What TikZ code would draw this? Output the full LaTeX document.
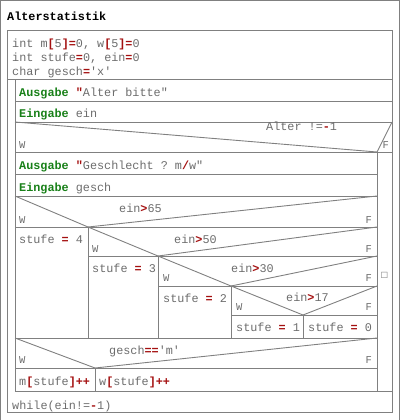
\documentclass[tikz,border=0pt]{standalone}
\usepackage{fontspec}
\setmonofont{Liberation Mono}
\newfontfamily\symfont{DejaVu Sans}
\usepackage{xcolor}
\usepackage{tikz}

\definecolor{linegray}{RGB}{128,128,128}
\definecolor{codegray}{RGB}{108,108,108}
\definecolor{kwgreen}{RGB}{24,128,24}
\definecolor{opred}{RGB}{164,16,16}
\newcommand\kw[1]{\textcolor{kwgreen}{\textbf{#1}}}
\newcommand\opr[1]{\textcolor{opred}{\textbf{#1}}}

\begin{document}
\begin{tikzpicture}[
    x=1pt, y=-1pt,
    box/.style={draw=linegray, line width=0.9pt},
    code/.style={anchor=base west, inner sep=0pt, text=codegray,
                 font=\fontsize{11.8}{13}\ttfamily},
    wlabel/.style={anchor=base west, inner sep=0pt, text=codegray,
                   font=\fontsize{10.5}{11}\ttfamily},
    flabel/.style={wlabel, anchor=base east}
]
\useasboundingbox (0,0) rectangle (401,420);
\draw[box] (0.5,420) |- (399.5,0.5) -- (399.5,420);
\node[code, text=black, font=\fontsize{11.8}{13}\ttfamily\bfseries] (title)
  at (7,21) {Alterstatistik};

% declarations
\draw[box] (7,30) rectangle (392,412);
\draw[box] (7,79) -- (392,79);
\node[code] (decl1) at (12,48) {int m\opr{[}5\opr{]=}0, w\opr{[}5\opr{]=}0};
\node[code] (decl2) at (12,62) {int stufe\opr{=}0, ein\opr{=}0};
\node[code] (decl3) at (12,75) {char gesch\opr{=}'x'};

% do-while body
\draw[box] (15,79) -- (15,391) -- (392,391);
\draw[box] (15,101) -- (392,101);
\draw[box] (15,122) -- (392,122);
\node[code] (out1) at (19,96) {\kw{Ausgabe} \opr{"}Alter bitte"};
\node[code] (in1) at (19,117) {\kw{Eingabe} ein};

% if Alter != -1
\draw[box] (15,122) -- (377,152) -- (392,122);
\draw[box] (15,152) -- (392,152);
\draw[box] (377,152) -- (377,391);
\node[code] (cond0) at (266,130) {Alter !=\opr{-}1};
\node[wlabel] (w0) at (19,148) {W};
\node[flabel] (f0) at (389,148) {F};
\node[inner sep=0pt, text=codegray, font=\symfont\fontsize{8}{9}\selectfont]
  (empty) at (384.5,275) {□};

\draw[box] (15,174) -- (377,174);
\draw[box] (15,196) -- (377,196);
\node[code] (out2) at (19,169) {\kw{Ausgabe} \opr{"}Geschlecht ? m\opr{/}w"};
\node[code] (in2) at (19,191) {\kw{Eingabe} gesch};

% ein>65
\draw[box] (15,196) -- (88,227) -- (377,196);
\draw[box] (15,227) -- (377,227);
\draw[box] (88,227) -- (88,338);
\node[code] (cond1) at (119,212) {ein\opr{>}65};
\node[wlabel] (w1) at (19,223) {W};
\node[flabel] (f1) at (372,223) {F};
\node[code] (s4) at (19,243.5) {stufe \opr{=} 4};

% ein>50
\draw[box] (88,227) -- (158,256) -- (377,227);
\draw[box] (88,256) -- (377,256);
\draw[box] (158,256) -- (158,338);
\node[code] (cond2) at (174,243) {ein\opr{>}50};
\node[wlabel] (w2) at (92,252) {W};
\node[flabel] (f2) at (372,252) {F};
\node[code] (s3) at (92,272.5) {stufe \opr{=} 3};

% ein>30
\draw[box] (158,256) -- (231,286) -- (377,256);
\draw[box] (158,286) -- (377,286);
\draw[box] (231,286) -- (231,338);
\node[code] (cond3) at (231,272) {ein\opr{>}30};
\node[wlabel] (w3) at (163,281) {W};
\node[flabel] (f3) at (372,281) {F};
\node[code] (s2) at (163,302.5) {stufe \opr{=} 2};

% ein>17
\draw[box] (231,286) -- (303,315) -- (377,286);
\draw[box] (231,315) -- (377,315);
\draw[box] (303,315) -- (303,338);
\node[code] (cond4) at (286,301) {ein\opr{>}17};
\node[wlabel] (w4) at (236,310) {W};
\node[flabel] (f4) at (372,310) {F};
\node[code] (s1) at (236,331.5) {stufe \opr{=} 1};
\node[code] (s0) at (308,331.5) {stufe \opr{=} 0};
\draw[box] (15,338) -- (377,338);

% gesch=='m'
\draw[box] (15,338) -- (95,368) -- (377,338);
\draw[box] (15,368) -- (377,368);
\draw[box] (95,368) -- (95,391);
\node[code] (cond5) at (109,354) {gesch\opr{==}'m'};
\node[wlabel] (w5) at (19,363) {W};
\node[flabel] (f5) at (372,363) {F};
\node[code] (incm) at (19,385) {m\opr{[}stufe\opr{]++}};
\node[code] (incw) at (99,385) {w\opr{[}stufe\opr{]++}};

\node[code] (loop) at (12,409) {while(ein!=\opr{-}1)};
\end{tikzpicture}
\end{document}
